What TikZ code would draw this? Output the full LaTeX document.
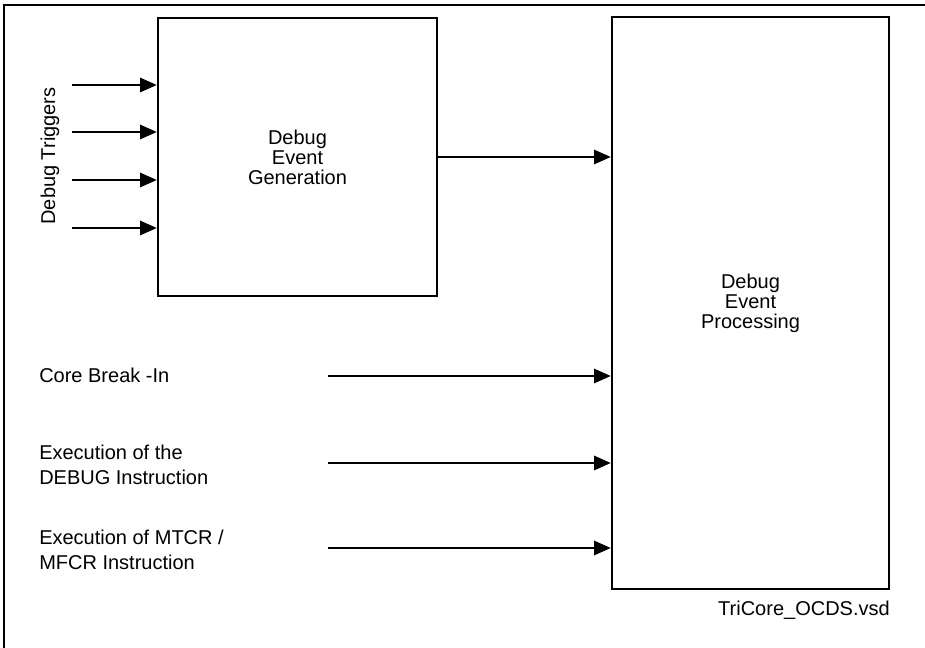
\documentclass[tikz,border=0pt]{standalone}
\usepackage{fontspec}
\setmainfont{Liberation Sans}
\usetikzlibrary{arrows.meta,positioning}

\begin{document}
\begin{tikzpicture}[x=0.75pt, y=-0.75pt,
  >={Triangle[length=12.5pt, width=11pt]},
  every node/.style={inner sep=0pt},
  blk/.style={draw, line width=2pt, align=center, font=\fontsize{15}{15}\selectfont},
  sig/.style={->, line width=0.8pt},
  lbl/.style={anchor=west, align=left, font=\fontsize{15}{18.75}\selectfont}]
\useasboundingbox (0,0) rectangle (925,648);
% frame
\draw[line width=1.1pt] (4,648) -- (4,5) -- (925,5);
% blocks
\node[blk, minimum width=209.25pt, minimum height=208.5pt] (gen) at (297.5,157) {Debug\\Event\\Generation};
\node[blk, minimum width=207.75pt, minimum height=429pt] (proc) at (750.5,303) {Debug\\Event\\Processing};
% triggers
\node[rotate=90, font=\fontsize{15}{18}\selectfont] (trig) at (50,156) {Debug Triggers};
\foreach \y [count=\i] in {85,132,180,228}
  \coordinate (t\i) at (72,\y);
\foreach \i in {1,...,4}
  \draw[sig] (t\i) -- (t\i -| gen.west);
\draw[sig] (gen.east |- 0,157) -- (proc.west |- 0,157);
% other event sources
\node[lbl, anchor=base west] (brk) at (39,383) {Core Break -In};
\node[lbl] (dbg) at (39,465) {Execution of the\\DEBUG Instruction};
\node[lbl] (mtcr) at (39,550) {Execution of MTCR /\\MFCR Instruction};
\coordinate (s1) at (328,376);
\coordinate (s2) at (328,463);
\coordinate (s3) at (328,548);
\foreach \i in {1,2,3}
  \draw[sig] (s\i) -- (s\i -| proc.west);
\node[anchor=base east, font=\fontsize{15}{18}\selectfont] (file) at (890,615) {TriCore\_OCDS.vsd};
\end{tikzpicture}
\end{document}
